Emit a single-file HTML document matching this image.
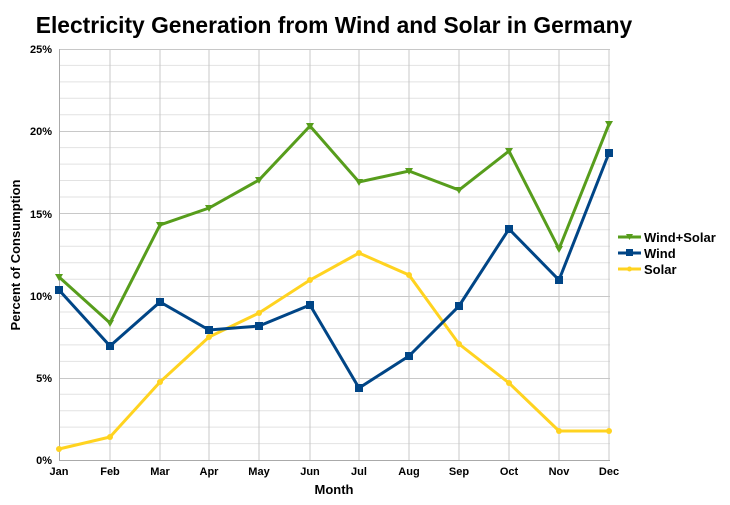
<!DOCTYPE html>
<html><head><style>body{margin:0;background:#fff}</style></head><body>
<svg width="730" height="500" xmlns="http://www.w3.org/2000/svg" font-family="Liberation Sans, sans-serif">
<rect width="730" height="500" fill="#fff"/>
<text x="334" y="33" text-anchor="middle" font-size="22.8" font-weight="bold">Electricity Generation from Wind and Solar in Germany</text>
<g stroke="#e2e2e2">
<line x1="59" x2="610" y1="443.6" y2="443.6"/><line x1="59" x2="610" y1="427.1" y2="427.1"/><line x1="59" x2="610" y1="410.7" y2="410.7"/><line x1="59" x2="610" y1="394.2" y2="394.2"/>
<line x1="59" x2="610" y1="361.4" y2="361.4"/><line x1="59" x2="610" y1="344.9" y2="344.9"/><line x1="59" x2="610" y1="328.5" y2="328.5"/><line x1="59" x2="610" y1="312" y2="312"/>
<line x1="59" x2="610" y1="279.2" y2="279.2"/><line x1="59" x2="610" y1="262.7" y2="262.7"/><line x1="59" x2="610" y1="246.3" y2="246.3"/><line x1="59" x2="610" y1="229.8" y2="229.8"/>
<line x1="59" x2="610" y1="197" y2="197"/><line x1="59" x2="610" y1="180.5" y2="180.5"/><line x1="59" x2="610" y1="164.1" y2="164.1"/><line x1="59" x2="610" y1="147.6" y2="147.6"/>
<line x1="59" x2="610" y1="114.8" y2="114.8"/><line x1="59" x2="610" y1="98.3" y2="98.3"/><line x1="59" x2="610" y1="81.9" y2="81.9"/><line x1="59" x2="610" y1="65.4" y2="65.4"/>
</g>
<g stroke="#c8c8c8">
<line x1="59" x2="610" y1="49.5" y2="49.5"/><line x1="59" x2="610" y1="131.5" y2="131.5"/><line x1="59" x2="610" y1="213.5" y2="213.5"/><line x1="59" x2="610" y1="296.5" y2="296.5"/><line x1="59" x2="610" y1="378.5" y2="378.5"/>
<line x1="110" x2="110" y1="49" y2="460"/><line x1="160" x2="160" y1="49" y2="460"/><line x1="209" x2="209" y1="49" y2="460"/><line x1="259" x2="259" y1="49" y2="460"/><line x1="310" x2="310" y1="49" y2="460"/><line x1="359" x2="359" y1="49" y2="460"/><line x1="409" x2="409" y1="49" y2="460"/><line x1="459" x2="459" y1="49" y2="460"/><line x1="509" x2="509" y1="49" y2="460"/><line x1="559" x2="559" y1="49" y2="460"/><line x1="609" x2="609" y1="49" y2="460"/>
</g>
<g stroke="#aaa"><line x1="59.5" x2="59.5" y1="49" y2="460"/><line x1="59" x2="610" y1="460.5" y2="460.5"/></g>
<g font-size="11" font-weight="bold" text-anchor="end">
<text x="52" y="53">25%</text><text x="52" y="135">20%</text><text x="52" y="218">15%</text><text x="52" y="300">10%</text><text x="52" y="382">5%</text><text x="52" y="464">0%</text>
</g>
<g font-size="11" font-weight="bold" text-anchor="middle">
<text x="59" y="475">Jan</text><text x="110" y="475">Feb</text><text x="160" y="475">Mar</text><text x="209" y="475">Apr</text><text x="259" y="475">May</text><text x="310" y="475">Jun</text><text x="359" y="475">Jul</text><text x="409" y="475">Aug</text><text x="459" y="475">Sep</text><text x="509" y="475">Oct</text><text x="559" y="475">Nov</text><text x="609" y="475">Dec</text>
</g>
<text x="334" y="494" text-anchor="middle" font-size="13" font-weight="bold">Month</text>
<text transform="translate(20,255) rotate(-90)" text-anchor="middle" font-size="13" font-weight="bold">Percent of Consumption</text>
<polyline fill="none" stroke="#ffd320" stroke-width="3" points="59,449 110,437 160,382 209,337 259,313 310,280 359,253 409,275 459,344 509,383 559,431 609,431"/>
<g fill="#ffd320"><circle cx="59" cy="449" r="3"/><circle cx="110" cy="437" r="3"/><circle cx="160" cy="382" r="3"/><circle cx="209" cy="337" r="3"/><circle cx="259" cy="313" r="3"/><circle cx="310" cy="280" r="3"/><circle cx="359" cy="253" r="3"/><circle cx="409" cy="275" r="3"/><circle cx="459" cy="344" r="3"/><circle cx="509" cy="383" r="3"/><circle cx="559" cy="431" r="3"/><circle cx="609" cy="431" r="3"/></g>
<polyline fill="none" stroke="#004586" stroke-width="3" points="59,290 110,346 160,302 209,330 259,326 310,305 359,388 409,356 459,306 509,229 559,280 609,153"/>
<g fill="#004586"><rect x="55" y="286" width="8" height="8"/><rect x="106" y="342" width="8" height="8"/><rect x="156" y="298" width="8" height="8"/><rect x="205" y="326" width="8" height="8"/><rect x="255" y="322" width="8" height="8"/><rect x="306" y="301" width="8" height="8"/><rect x="355" y="384" width="8" height="8"/><rect x="405" y="352" width="8" height="8"/><rect x="455" y="302" width="8" height="8"/><rect x="505" y="225" width="8" height="8"/><rect x="555" y="276" width="8" height="8"/><rect x="605" y="149" width="8" height="8"/></g>
<polyline fill="none" stroke="#579d1c" stroke-width="3" points="59,277 110,323 160,225 209,208 259,180 310,126 359,182 409,171 459,190 509,151 559,249 609,124"/>
<g fill="#579d1c">
<path d="M55,274h8l-4,7z"/><path d="M106,320h8l-4,7z"/><path d="M156,222h8l-4,7z"/><path d="M205,205h8l-4,7z"/><path d="M255,177h8l-4,7z"/><path d="M306,123h8l-4,7z"/><path d="M355,179h8l-4,7z"/><path d="M405,168h8l-4,7z"/><path d="M455,187h8l-4,7z"/><path d="M505,148h8l-4,7z"/><path d="M555,246h8l-4,7z"/><path d="M605,121h8l-4,7z"/>
</g>
<g font-size="13" font-weight="bold">
<line x1="618" x2="641" y1="237" y2="237" stroke="#579d1c" stroke-width="3"/><path d="M626,234h7l-3.5,6z" fill="#579d1c"/><text x="644" y="242">Wind+Solar</text>
<line x1="618" x2="641" y1="253" y2="253" stroke="#004586" stroke-width="3"/><rect x="626" y="249" width="7" height="7" fill="#004586"/><text x="644" y="258">Wind</text>
<line x1="618" x2="641" y1="269" y2="269" stroke="#ffd320" stroke-width="3"/><circle cx="629.5" cy="269" r="2.5" fill="#ffd320"/><text x="644" y="274">Solar</text>
</g>
</svg>
</body></html>
